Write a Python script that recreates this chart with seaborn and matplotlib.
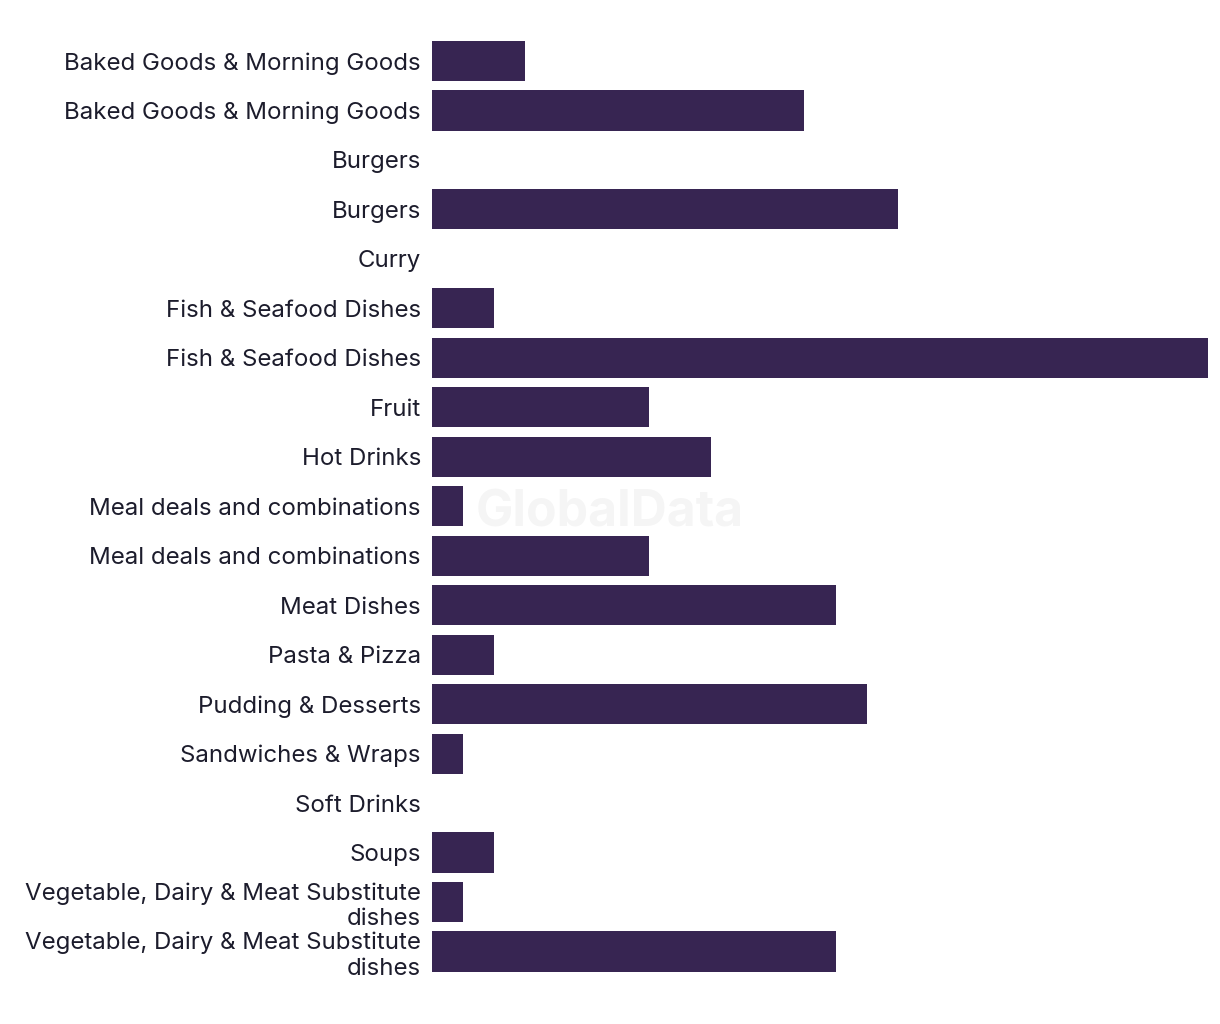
import matplotlib
matplotlib.use("Agg")
import matplotlib.pyplot as plt
import seaborn as sns
import pandas as pd

categories = [
    "Baked Goods & Morning Goods",
    "Baked Goods & Morning Goods",
    "Burgers",
    "Burgers",
    "Curry",
    "Fish & Seafood Dishes",
    "Fish & Seafood Dishes",
    "Fruit",
    "Hot Drinks",
    "Meal deals and combinations",
    "Meal deals and combinations",
    "Meat Dishes",
    "Pasta & Pizza",
    "Pudding & Desserts",
    "Sandwiches & Wraps",
    "Soft Drinks",
    "Soups",
    "Vegetable, Dairy & Meat Substitute\ndishes",
    "Vegetable, Dairy & Meat Substitute\ndishes",
]
values = [3, 12, 0, 15, 0, 2, 25, 7, 9, 1, 7, 13, 2, 14, 1, 0, 2, 1, 13]

BAR = "#372552"
TEXT = "#1c1c2c"

sns.set_theme(style="white")
plt.rcParams["font.family"] = ["Inter", "DejaVu Sans"]

df = pd.DataFrame({"row": [str(i) for i in range(len(values))],
                   "value": values})

fig = plt.figure(figsize=(12.2, 10.24), dpi=100)
ax = fig.add_axes([432 / 1220, 1 - 976.2 / 1024, (1208 - 432) / 1220, (976.2 - 36.3) / 1024])
sns.barplot(data=df, y="row", x="value", orient="h", color=BAR, saturation=1,
            width=0.81, linewidth=0, edgecolor="none", ax=ax)
ax.set_xlim(0, max(values))
ax.set_ylim(len(values) - 0.5, -0.5)
ax.set_yticks(range(len(values)))
ax.set_yticklabels(categories, fontsize=17.3, color=TEXT, linespacing=1.2)
ax.tick_params(axis="y", length=0, pad=8)
ax.set_xticks([])
ax.set_xlabel("")
ax.set_ylabel("")
for s in ax.spines.values():
    s.set_visible(False)

fig.text(610 / 1220, 1 - 513 / 1024, "GlobalData", ha="center", va="center",
         fontsize=36, fontweight="bold", color="#000000", alpha=0.04)

fig.savefig("out.png", dpi=100)
